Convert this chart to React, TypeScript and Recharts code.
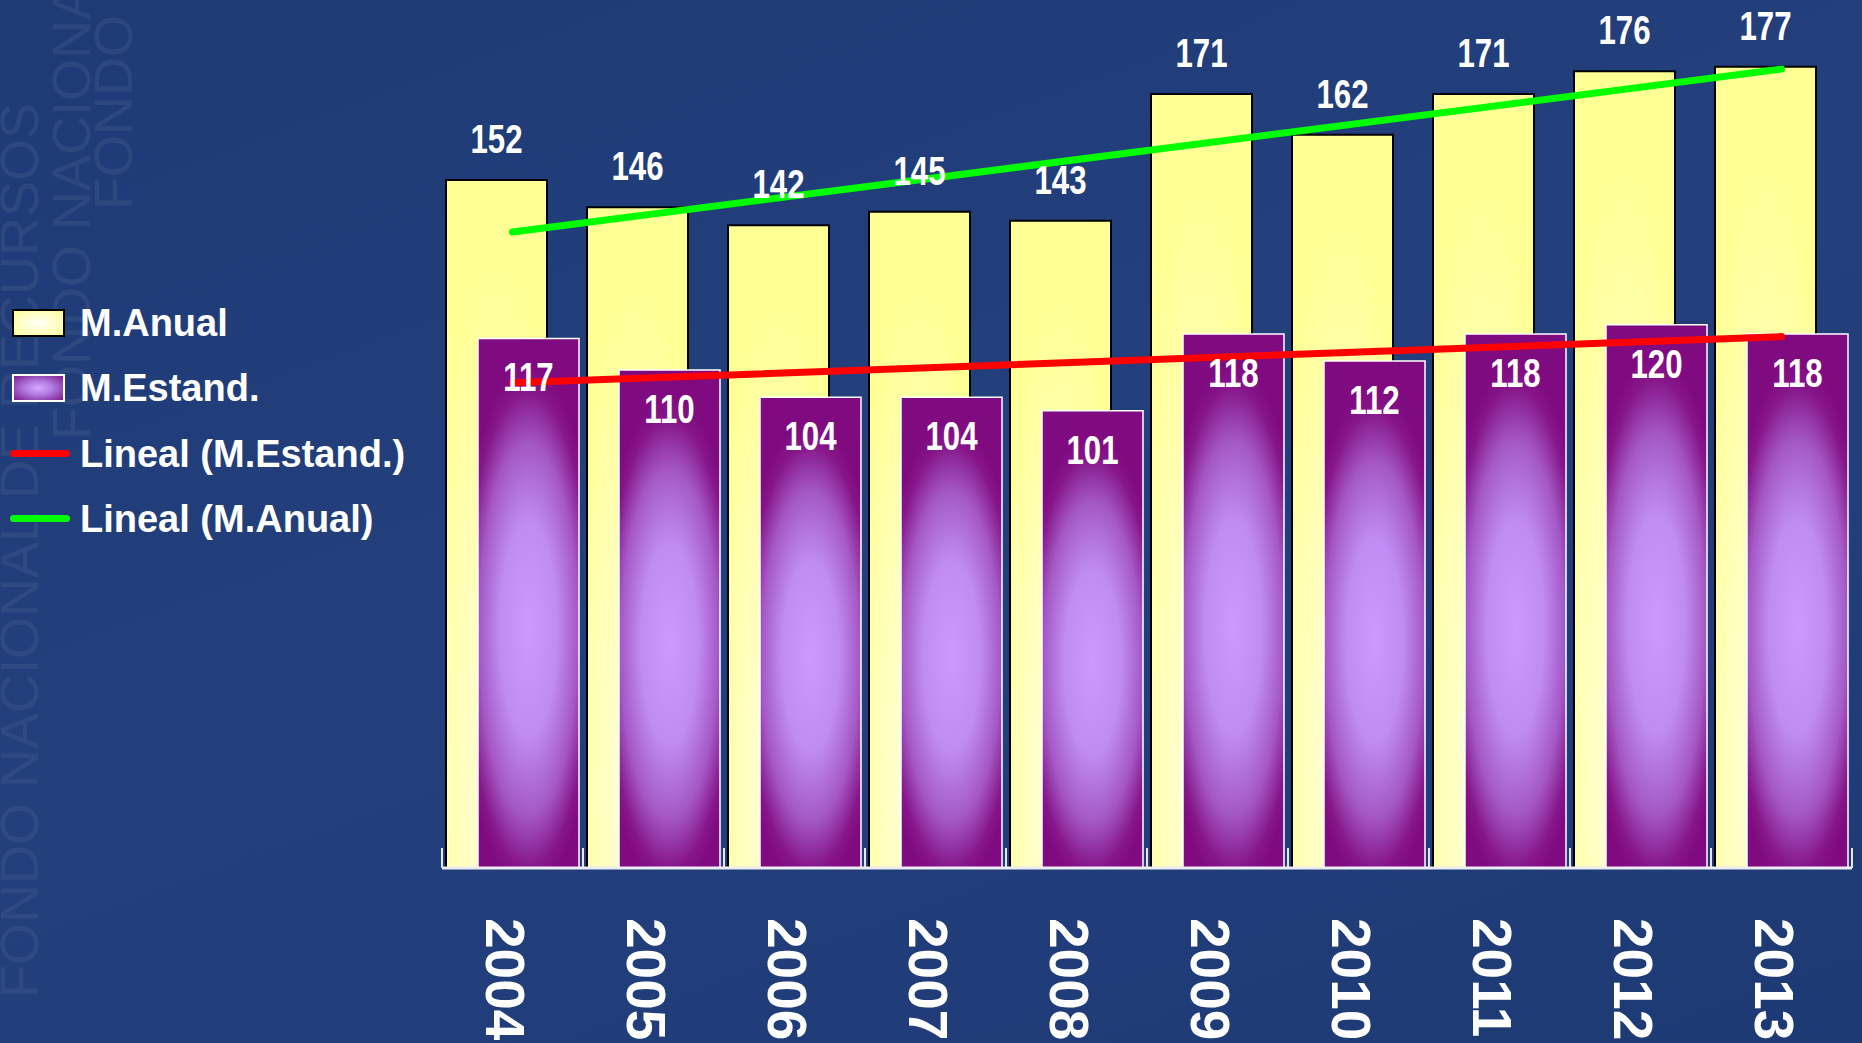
import { ComposedChart, Bar, Line, XAxis, YAxis, LabelList } from "recharts";

const years = ["2004", "2005", "2006", "2007", "2008", "2009", "2010", "2011", "2012", "2013"];
const anual = [152, 146, 142, 145, 143, 171, 162, 171, 176, 177];
const estand = [117, 110, 104, 104, 101, 118, 112, 118, 120, 118];
// trend lines, end points
const trendEstand = [107.2, null, null, null, null, null, null, null, null, 117.4];
const trendAnual = [140.5, null, null, null, null, null, null, null, null, 176.5];
const seriesNames = ["M.Anual", "M.Estand.", "Lineal (M.Estand.)", "Lineal (M.Anual)"];

const data = years.map((year, i) => ({
  year,
  anual: anual[i],
  estand: estand[i],
  trendEstand: trendEstand[i],
  trendAnual: trendAnual[i],
}));

const FONT = "'Liberation Sans', Arial, sans-serif";

const BarValue = (props: any) => {
  const { x, y, width, value, inside } = props;
  const cx = Number(x) + Number(width) / 2;
  const by = inside ? Number(y) + 53 : Number(y) - 27;
  return (
    <text
      transform={`translate(${cx},${by}) scale(0.78,1)`}
      textAnchor="middle"
      fill="#ffffff"
      fontSize={40}
      fontWeight="bold"
      fontFamily={FONT}
    >
      {value}
    </text>
  );
};

const YearTick = (props: any) => {
  const { x, y, payload, index, visibleTicksCount } = props;
  const half = payload && payload.offset ? payload.offset : 70.5;
  const last = index === visibleTicksCount - 1;
  return (
    <g>
      <line x1={x - half} x2={x - half} y1={y} y2={y - 20} stroke="#e6e6ee" strokeWidth={2} />
      {last && <line x1={x + half} x2={x + half} y1={y} y2={y - 20} stroke="#e6e6ee" strokeWidth={2} />}
      <text
        transform={`translate(${x - 27},${y + 50}) rotate(90)`}
        fill="#ffffff"
        fontSize={55}
        fontWeight="bold"
        fontFamily={FONT}
      >
        {payload.value}
      </text>
    </g>
  );
};

const LegendBox = () => {
  const icons = [
    <div style={{ width: 49, height: 24, border: "2px solid #000", background: "radial-gradient(ellipse at center, #ffffff 0%, #ffffcc 45%, #ffff99 100%)" }} />,
    <div style={{ width: 49, height: 24, border: "2px solid #fff", background: "radial-gradient(ellipse at center, #d9a8ff 0%, #b07ae0 40%, #7e1a86 100%)" }} />,
    <div style={{ width: 60, height: 7, borderRadius: 4, background: "#ff0000", marginLeft: -2 }} />,
    <div style={{ width: 60, height: 7, borderRadius: 4, background: "#00ff00", marginLeft: -2 }} />,
  ];
  return (
    <div style={{ position: "absolute", left: 0, top: 0 }}>
      {seriesNames.map((name, i) => (
        <div key={name} style={{ position: "absolute", top: 301 + i * 65.3, left: 12, height: 44, display: "flex", alignItems: "center", whiteSpace: "nowrap" }}>
          <div style={{ width: 68, display: "flex", alignItems: "center" }}>{icons[i]}</div>
          <span style={{ color: "#fff", fontFamily: FONT, fontWeight: "bold", fontSize: 38, lineHeight: "44px" }}>{name}</span>
        </div>
      ))}
    </div>
  );
};

const Watermark = () => (
  <svg width={260} height={1043} style={{ position: "absolute", left: 0, top: 0 }}>
    <g fill="rgba(255,255,255,0.06)" fontFamily={FONT} fontSize={54}>
      <text transform="translate(38,998) rotate(-90)">FONDO NACIONAL DE RECURSOS</text>
      <text transform="translate(90,440) rotate(-90)">FONDO NACIONAL</text>
      <text transform="translate(132,210) rotate(-90)">FONDO N</text>
    </g>
  </svg>
);

export default function App() {
  return (
    <div
      style={{
        position: "relative",
        width: 1862,
        height: 1043,
        overflow: "hidden",
        background: "linear-gradient(160deg, #1f3b76 0%, #233f7c 45%, #213e7b 70%, #1d3a74 100%)",
      }}
    >
      <style>{`body{margin:0}`}</style>
      <Watermark />
      <LegendBox />
      <div style={{ position: "absolute", left: 0, top: 0 }}>
        <ComposedChart
          width={1862}
          height={1043}
          data={data}
          margin={{ top: 8, right: 10, bottom: 0, left: 442 }}
          barGap={-69}
        >
          <defs>
            <radialGradient id="gYellow" cx="0.5" cy="0.88" r="0.75">
              <stop offset="0%" stopColor="#fffff4" />
              <stop offset="35%" stopColor="#ffffc8" />
              <stop offset="100%" stopColor="#ffff96" />
            </radialGradient>
            <radialGradient
              id="gPurple"
              cx="0.5"
              cy="0.55"
              r="0.5"
              gradientTransform="translate(0.5,0.55) scale(1.4,1) translate(-0.5,-0.55)"
            >
              <stop offset="0%" stopColor="#cc99ff" />
              <stop offset="40%" stopColor="#c08cf4" />
              <stop offset="70%" stopColor="#a458c4" />
              <stop offset="90%" stopColor="#86168a" />
              <stop offset="100%" stopColor="#800a80" />
            </radialGradient>
          </defs>
          <XAxis
            dataKey="year"
            height={175}
            interval={0}
            tickSize={0}
            tickMargin={0}
            tickLine={false}
            axisLine={{ stroke: "#ececf2", strokeWidth: 3 }}
            tick={<YearTick />}
          />
          <YAxis hide domain={[0, 190]} />
          <Bar dataKey="anual" name={seriesNames[0]} barSize={101} fill="url(#gYellow)" stroke="#000" strokeWidth={2} isAnimationActive={false}>
            <LabelList dataKey="anual" content={(p: any) => <BarValue {...p} />} />
          </Bar>
          <Bar dataKey="estand" name={seriesNames[1]} barSize={101} fill="url(#gPurple)" stroke="#fff" strokeWidth={1.5} isAnimationActive={false}>
            <LabelList dataKey="estand" content={(p: any) => <BarValue {...p} inside />} />
          </Bar>
          <Line dataKey="trendEstand" name={seriesNames[2]} stroke="#ff0000" strokeWidth={7} strokeLinecap="round" dot={false} connectNulls isAnimationActive={false} />
          <Line dataKey="trendAnual" name={seriesNames[3]} stroke="#00ff00" strokeWidth={7} strokeLinecap="round" dot={false} connectNulls isAnimationActive={false} />
        </ComposedChart>
      </div>
    </div>
  );
}
